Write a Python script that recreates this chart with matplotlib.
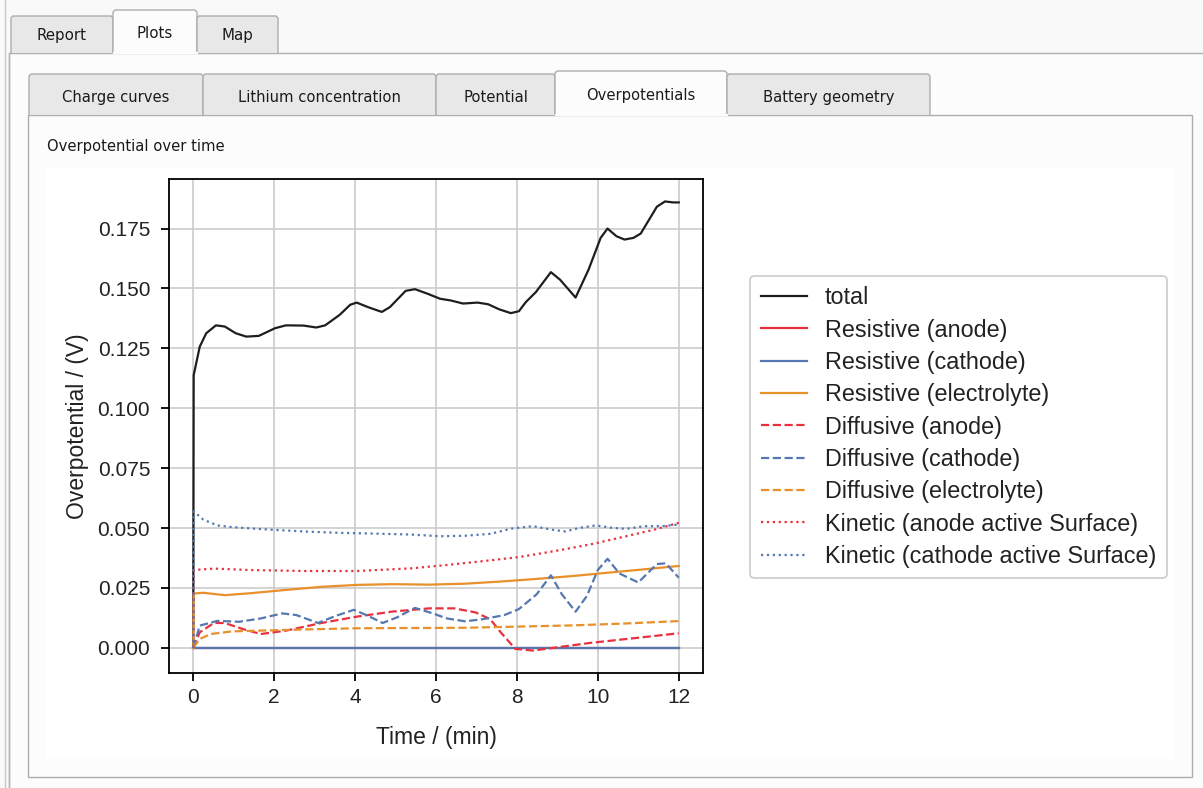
import matplotlib
matplotlib.use("Agg")
import matplotlib.pyplot as plt
from matplotlib.patches import Rectangle, Polygon

# ---- data (time in min, overpotential in V) ----
total_t = [0.0, 0.01, 0.16, 0.32, 0.56, 0.78, 1.05, 1.31, 1.62, 2.02, 2.29, 2.73, 3.04, 3.26,
           3.62, 3.88, 4.04, 4.32, 4.66, 4.86, 5.25, 5.48, 5.79, 6.10, 6.36, 6.67, 7.03,
           7.29, 7.56, 7.85, 8.05, 8.22, 8.47, 8.84, 9.07, 9.45, 9.77, 10.07, 10.24,
           10.46, 10.66, 10.88, 11.06, 11.46, 11.66, 11.86, 12.0]
total_v = [0.0, 0.1138, 0.1257, 0.1313, 0.1346, 0.1341, 0.1313, 0.1299, 0.1302, 0.1334,
           0.1346, 0.1345, 0.1337, 0.1346, 0.1390, 0.1432, 0.1441, 0.1422, 0.1402, 0.1422,
           0.1490, 0.1497, 0.1478, 0.1457, 0.1450, 0.1437, 0.1441, 0.1434, 0.1413, 0.1397,
           0.1405, 0.1443, 0.1485, 0.1568, 0.1536, 0.1462, 0.1578, 0.1711, 0.1750, 0.1718,
           0.1704, 0.1711, 0.1729, 0.1841, 0.1863, 0.1859, 0.1859]

res_anode_t = [0.0, 12.0]
res_anode_v = [0.0, 0.0]
res_cathode_t = [0.0, 12.0]
res_cathode_v = [0.0, 0.0]

res_elyte_t = [0.0, 0.01, 0.25, 0.78, 1.4, 2.29, 3.17, 4.06, 4.94, 5.83, 6.72, 7.6, 8.49,
               9.38, 10.26, 11.15, 12.0]
res_elyte_v = [0.0, 0.0227, 0.0230, 0.0220, 0.0228, 0.0242, 0.0255, 0.0263, 0.0266, 0.0264,
               0.0268, 0.0277, 0.0288, 0.0300, 0.0314, 0.0328, 0.0342]

dif_anode_t = [0.0, 0.16, 0.51, 0.78, 1.22, 1.67, 2.29, 3.17, 4.06, 4.94, 5.83, 6.45, 6.98,
               7.34, 7.6, 7.96, 8.4, 8.93, 9.82, 10.7, 12.0]
dif_anode_v = [0.0, 0.0065, 0.0104, 0.0104, 0.0079, 0.0058, 0.0072, 0.0104, 0.0131, 0.0152,
               0.0165, 0.0165, 0.0148, 0.0120, 0.0065, -0.0004, -0.0011, 0.0001, 0.0021,
               0.0037, 0.0061]

dif_cathode_t = [0.0, 0.16, 0.6, 1.13, 1.67, 2.2, 2.55, 3.08, 3.53, 3.97, 4.32, 4.68, 5.03,
                 5.48, 5.92, 6.27, 6.72, 7.16, 7.69, 8.05, 8.49, 8.84, 9.11, 9.45, 9.73,
                 10.0, 10.24, 10.53, 11.0, 11.46, 11.68, 12.0]
dif_cathode_v = [0.0, 0.0093, 0.0113, 0.0109, 0.0123, 0.0144, 0.0137, 0.0104, 0.0134, 0.0159,
                 0.0134, 0.0104, 0.0127, 0.0167, 0.0144, 0.0123, 0.0111, 0.0120, 0.0137,
                 0.0162, 0.0224, 0.0303, 0.0224, 0.0151, 0.0217, 0.0325, 0.0372, 0.0311,
                 0.0273, 0.0350, 0.0353, 0.0293]

dif_elyte_t = [0.0, 0.16, 0.43, 0.96, 1.84, 2.73, 4.06, 5.39, 6.72, 8.05, 9.38, 10.7, 12.0]
dif_elyte_v = [0.0, 0.0037, 0.0058, 0.0069, 0.0073, 0.0077, 0.0082, 0.0083, 0.0084, 0.0089,
               0.0094, 0.0102, 0.0112]

kin_anode_t = [0.0, 0.01, 0.51, 1.4, 2.73, 4.06, 5.39, 6.27, 7.16, 8.05, 8.93, 9.82, 10.7,
               11.41, 12.0]
kin_anode_v = [0.0, 0.0325, 0.0331, 0.0325, 0.0321, 0.0321, 0.0332, 0.0346, 0.0362, 0.0379,
               0.0404, 0.0432, 0.0466, 0.0494, 0.0522]

kin_cathode_t = [0.0, 0.01, 0.25, 0.6, 0.96, 1.84, 2.73, 3.62, 4.5, 5.39, 6.1, 6.72, 7.34,
                 7.87, 8.4, 8.84, 9.2, 9.55, 9.95, 10.35, 10.7, 11.15, 11.59, 12.0]
kin_cathode_v = [0.0, 0.0570, 0.0535, 0.0511, 0.0504, 0.0494, 0.0486, 0.0480, 0.0477, 0.0473,
                 0.0466, 0.0468, 0.0476, 0.0498, 0.0508, 0.0494, 0.0486, 0.0501, 0.0511,
                 0.0501, 0.0497, 0.0508, 0.0508, 0.0515]

series_labels = ["total", "Resistive (anode)", "Resistive (cathode)", "Resistive (electrolyte)",
                 "Diffusive (anode)", "Diffusive (cathode)", "Diffusive (electrolyte)",
                 "Kinetic (anode active Surface)", "Kinetic (cathode active Surface)"]

outer_tabs = ["Report", "Plots", "Map"]
inner_tabs = ["Charge curves", "Lithium concentration", "Potential", "Overpotentials",
              "Battery geometry"]
panel_title = "Overpotential over time"
x_label = "Time / (min)"
y_label = "Overpotential / (V)"

# ---- styling ----
BLACK = "#1e1e1e"
RED = "#e8303f"
BLUE = "#5578b0"
ORANGE = "#e8902a"
GUI_FONT = ["DejaVu Sans"]
PLOT_FONT = ["Liberation Sans", "DejaVu Sans"]

W, H = 1203, 788
fig = plt.figure(figsize=(W / 100, H / 100), dpi=100)
fig.patch.set_facecolor("#f9f9f9")

# window chrome drawn in pixel coordinates
gui = fig.add_axes([0, 0, 1, 1])
gui.set_xlim(0, W)
gui.set_ylim(H, 0)
gui.axis("off")

BORDER = "#adadad"


def tab(x0, x1, y0, y1, label, selected, ty, fs):
    face = "#fcfcfc" if selected else "#e8e8e8"
    gui.add_patch(Polygon([[x0, y1], [x0, y0 + 2], [x0 + 2, y0], [x1 - 2, y0], [x1, y0 + 2],
                           [x1, y1]], closed=False, facecolor=face, edgecolor=BORDER,
                          lw=1.0, zorder=3))
    gui.text((x0 + x1) / 2, ty, label, ha="center", va="center", fontsize=fs,
             family=GUI_FONT, color="#1a1a1a", zorder=4)


# left window edge lines
gui.plot([5, 5], [0, H], color="#c8c8c8", lw=1.0)
gui.plot([9, 9], [53, H], color="#b5b5b5", lw=1.0)

# outer tab pane
gui.add_patch(Rectangle((9, 53), W, H, facecolor="#fcfcfc", edgecolor=BORDER, lw=1.0, zorder=1))
outer_x = [11, 113, 197, 278]
for i, lab in enumerate(outer_tabs):
    sel = i == 1
    tab(outer_x[i], outer_x[i + 1], 10 if sel else 16, 53 + (1 if sel else 0), lab, sel,
        33 if sel else 35, 10.8)
gui.plot([113.5, 196.5], [53, 53], color="#fcfcfc", lw=1.6, zorder=5)

# inner tab pane
gui.add_patch(Rectangle((28, 115), 1164, 662, facecolor="#fcfcfc", edgecolor=BORDER,
                        lw=1.0, zorder=1))
inner_x = [29, 203, 436, 555, 727, 930]
for i, lab in enumerate(inner_tabs):
    sel = i == 3
    tab(inner_x[i], inner_x[i + 1], 71 if sel else 74, 115 + (1 if sel else 0), lab, sel,
        95 if sel else 97, 10.6)
gui.plot([555.5, 726.5], [115, 115], color="#fcfcfc", lw=1.6, zorder=5)

gui.text(47, 146, panel_title, ha="left", va="center", fontsize=10.6, family=GUI_FONT,
         color="#1a1a1a")

# white plot canvas
gui.add_patch(Rectangle((46, 168), 1128, 591, facecolor="white", edgecolor="none", zorder=2))

# ---- the chart ----
ax = fig.add_axes([169 / W, 1 - 673 / H, (703 - 169) / W, (673 - 179) / H])
ax.set_facecolor("white")
ax.set_zorder(5)

LW = 1.6
ax.plot(total_t, total_v, color=BLACK, lw=LW, label=series_labels[0])
ax.plot(res_anode_t, res_anode_v, color=RED, lw=LW, label=series_labels[1])
ax.plot(res_cathode_t, res_cathode_v, color=BLUE, lw=LW, label=series_labels[2])
ax.plot(res_elyte_t, res_elyte_v, color=ORANGE, lw=LW, label=series_labels[3])
ax.plot(dif_anode_t, dif_anode_v, color=RED, lw=LW, ls="--", label=series_labels[4])
ax.plot(dif_cathode_t, dif_cathode_v, color=BLUE, lw=LW, ls="--", label=series_labels[5])
ax.plot(dif_elyte_t, dif_elyte_v, color=ORANGE, lw=LW, ls="--", label=series_labels[6])
ax.plot(kin_anode_t, kin_anode_v, color=RED, lw=LW, ls=":", label=series_labels[7])
ax.plot(kin_cathode_t, kin_cathode_v, color=BLUE, lw=LW, ls=":", label=series_labels[8])

ax.set_xticks([0, 2, 4, 6, 8, 10, 12])
ax.set_yticks([0.0, 0.025, 0.05, 0.075, 0.1, 0.125, 0.15, 0.175])
ax.yaxis.set_major_formatter(matplotlib.ticker.FormatStrFormatter("%.3f"))
ax.grid(True, color="#cccccc", lw=1.2)
ax.set_axisbelow(True)
for s in ax.spines.values():
    s.set_color("black")
    s.set_linewidth(1.3)
ax.tick_params(labelsize=15, length=5.5, width=1.3, pad=5, color="black",
               labelcolor="#222222")
ax.tick_params(axis="y", pad=8)
for lab in ax.get_xticklabels() + ax.get_yticklabels():
    lab.set_family(PLOT_FONT)
ax.set_xlabel(x_label, fontsize=16.5, family=PLOT_FONT, color="#222222", labelpad=14)
ax.set_ylabel(y_label, fontsize=16.5, family=PLOT_FONT, color="#222222", labelpad=6)

leg = ax.legend(loc="center left", bbox_to_anchor=(750 / W, 1 - 427 / H),
                bbox_transform=fig.transFigure, prop={"family": PLOT_FONT, "size": 16.8},
                frameon=True, fancybox=True, edgecolor="#cccccc", framealpha=1.0,
                handlelength=2.0, handletextpad=0.75, labelspacing=0.40, borderpad=0.45,
                borderaxespad=0.0)
leg.get_frame().set_linewidth(1.2)
for t in leg.get_texts():
    t.set_color("#222222")

fig.savefig("out.png", dpi=100)
